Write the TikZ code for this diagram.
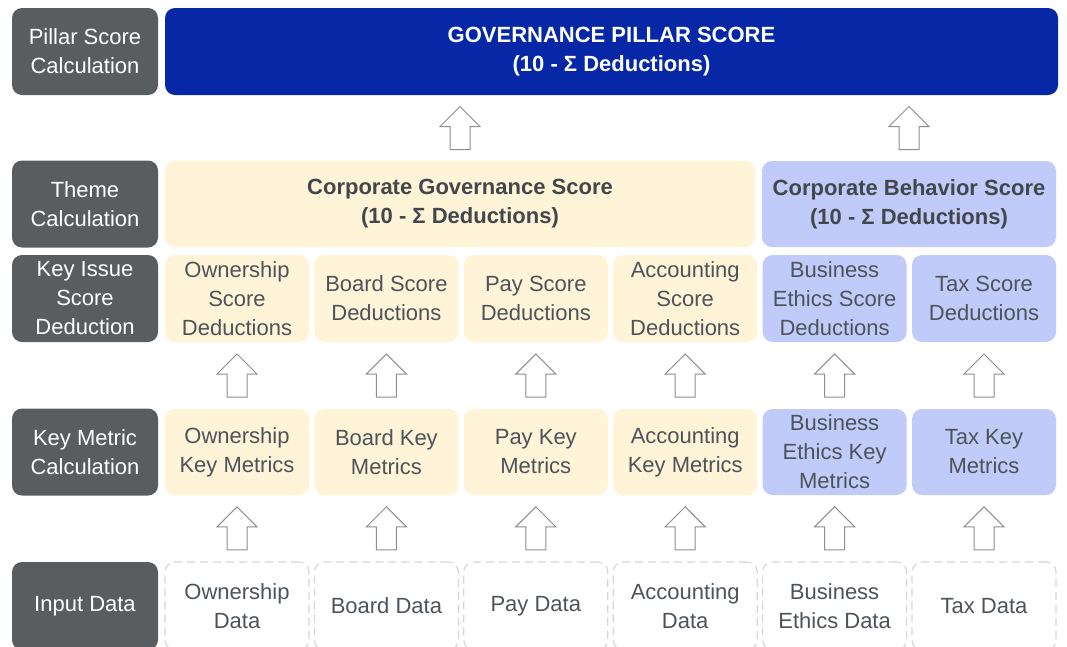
\documentclass[tikz,border=0pt]{standalone}
\usepackage{fontspec}
\setmainfont{Liberation Sans}
\usepackage{tikz}
\usetikzlibrary{calc}
\usepackage{xcolor}
\definecolor{labelgray}{HTML}{5A5D60}
\definecolor{pillarblue}{HTML}{0628A6}
\definecolor{govyellow}{HTML}{FFF3D8}
\definecolor{behblue}{HTML}{C0CBF9}
\definecolor{textgray}{HTML}{4D5359}
\definecolor{arrowgray}{HTML}{8E8E8E}
\definecolor{dashgray}{HTML}{D6D6D6}

\begin{document}
\begin{tikzpicture}[
    x=1pt, y=-1pt,
    every node/.style={font=\fontsize{22}{29}\selectfont, align=center, inner sep=0pt},
    rowlabel/.style={fill=labelgray, text=white, rounded corners=10pt, minimum width=146pt, minimum height=87pt},
    cell/.style={rounded corners=10pt, text=textgray, minimum width=144pt, minimum height=87pt},
    govcell/.style={cell, fill=govyellow},
    behcell/.style={cell, fill=behblue},
    datacell/.style={cell, draw=dashgray, line width=1.2pt, dash pattern=on 8pt off 5pt},
    themebox/.style={rounded corners=10pt, text=textgray!85!black, minimum height=86pt, font=\fontsize{22}{29}\selectfont\bfseries},
    uparrow/.pic={
        \draw[arrowgray, line width=1pt, fill=white]
            (-10,21.5) -- (-10,-1.5) -- (-20,-1.5) -- (0,-21.5) -- (20,-1.5) -- (10,-1.5) -- (10,21.5) -- cycle;
    }
]
    \useasboundingbox (0,0) rectangle (1067,646);

    % Row labels on the left.
    \node[rowlabel] (lbl-pillar) at (85,51.5) {Pillar Score\\Calculation};
    \node[rowlabel] (lbl-theme) at (85,204) {Theme\\Calculation};
    \node[rowlabel] (lbl-issue) at (85,298.5) {Key Issue\\Score\\Deduction};
    \node[rowlabel] (lbl-metric) at (85,452) {Key Metric\\Calculation};
    \node[rowlabel, minimum height=88pt] (lbl-input) at (85,606) {Input Data};

    % Pillar and themes.
    \node[themebox, fill=pillarblue, text=white, minimum width=893pt, minimum height=87pt] (pillar) at (611.5,51.5)
        {GOVERNANCE PILLAR SCORE\\(10 - Σ Deductions)};
    \node[themebox, fill=govyellow, minimum width=590pt] (gov) at (460,204)
        {Corporate Governance Score\\(10 - Σ Deductions)};
    \node[themebox, fill=behblue, minimum width=294pt] (beh) at (909,204)
        {Corporate Behavior Score\\(10 - Σ Deductions)};

    % Key issue deductions.
    \node[govcell] (own-issue) at (237,298.5) {Ownership\\Score\\Deductions};
    \node[govcell] (board-issue) at (386.4,298.5) {Board Score\\Deductions};
    \node[govcell] (pay-issue) at (535.8,298.5) {Pay Score\\Deductions};
    \node[govcell] (acc-issue) at (685.2,298.5) {Accounting\\Score\\Deductions};
    \node[behcell] (eth-issue) at (834.6,298.5) {Business\\Ethics Score\\Deductions};
    \node[behcell] (tax-issue) at (984,298.5) {Tax Score\\Deductions};

    % Key metrics.
    \node[govcell, minimum height=86pt] (own-metric) at (237,452) {Ownership\\Key Metrics};
    \node[govcell, minimum height=86pt] (board-metric) at (386.4,452) {Board Key\\Metrics};
    \node[govcell, minimum height=86pt] (pay-metric) at (535.8,452) {Pay Key\\Metrics};
    \node[govcell, minimum height=86pt] (acc-metric) at (685.2,452) {Accounting\\Key Metrics};
    \node[behcell, minimum height=86pt] (eth-metric) at (834.6,452) {Business\\Ethics Key\\Metrics};
    \node[behcell, minimum height=86pt] (tax-metric) at (984,452) {Tax Key\\Metrics};

    % Input data.
    \node[datacell, minimum height=88pt] (own-data) at (237,606) {Ownership\\Data};
    \node[datacell, minimum height=88pt] (board-data) at (386.4,606) {Board Data};
    \node[datacell, minimum height=88pt] (pay-data) at (535.8,606) {Pay Data};
    \node[datacell, minimum height=88pt] (acc-data) at (685.2,606) {Accounting\\Data};
    \node[datacell, minimum height=88pt] (eth-data) at (834.6,606) {Business\\Ethics Data};
    \node[datacell, minimum height=88pt] (tax-data) at (984,606) {Tax Data};

    % Block arrows between the rows.
    \pic at ($(gov.north)!0.5!(gov.north |- pillar.south)$) {uparrow};
    \pic at ($(beh.north)!0.5!(beh.north |- pillar.south)$) {uparrow};
    \foreach \k in {own,board,pay,acc,eth,tax} {
        \pic at ($(\k-metric.north)!0.5!(\k-issue.south)$) {uparrow};
        \pic at ($(\k-data.north)!0.5!(\k-metric.south)$) {uparrow};
    }
\end{tikzpicture}
\end{document}
